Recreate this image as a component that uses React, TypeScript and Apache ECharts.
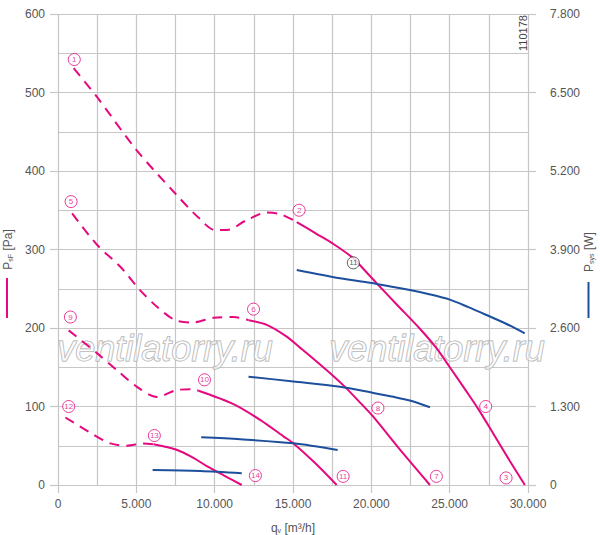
import React, { useEffect, useRef } from "react";
import * as echarts from "echarts";

const PINK = "#e4097e";
const BLUE = "#1d4f9c";
const GRID = "#c6c6c6";
const TEXT = "#555555";
const FONT = "'Liberation Sans', Arial, sans-serif";

// x axis: flow q_v [m3/h]
const xRange = [0, 30000];
const xStep = 5000;
// left axis: pressure [Pa]
const paRange = [0, 600];
const paStep = 100;
// right axis: power [W]
const wRange = [0, 7800];
const wStep = 1300;

// pressure curves (Pa), dashed (unstable) and solid parts
const curveIDashed = [[1000, 531], [2500, 494], [5000, 427], [7500, 371], [9000, 340], [10000, 325], [10800, 325], [12000, 337], [13300, 347], [14200, 345], [15240, 335]];
const curveISolid = [[15240, 335], [16500, 320], [17580, 307], [18850, 289], [19280, 280], [20340, 257], [21620, 230], [23100, 199], [24170, 174], [25010, 150], [26080, 119], [26820, 97], [27770, 66], [28830, 31], [29800, 0]];
const curveIIDashed = [[900, 346], [2490, 306], [3980, 278], [5250, 248], [6320, 227], [7480, 210], [8550, 207], [9930, 213], [11200, 214], [12160, 210]];
const curveIISolid = [[12160, 210], [13330, 204], [14600, 189], [15450, 175], [16410, 159], [17570, 139], [18320, 125], [19280, 105], [20120, 87], [21830, 45], [23740, 0]];
const curveIIIDashed = [[680, 197], [2490, 168], [3770, 146], [5040, 125], [6320, 112], [7590, 121], [8650, 122], [8970, 120]];
const curveIIISolid = [[8970, 120], [11200, 103], [12900, 83], [14390, 62], [15030, 53], [16410, 28], [17790, 0]];
const curveIVDashed = [[470, 86], [2280, 64], [3340, 53], [4400, 50], [5460, 53], [6100, 52]];
const curveIVSolid = [[6100, 52], [7000, 48], [7800, 43], [8700, 34], [9500, 24], [10600, 12], [11730, 0]];

// power curves (W)
const powerI = [[15240, 3561], [18000, 3423], [20340, 3330], [22460, 3229], [23700, 3160], [25010, 3070], [26200, 2945], [27350, 2815], [28600, 2670], [29790, 2512]];
const powerII = [[12160, 1793], [15030, 1715], [18000, 1628], [20120, 1525], [21300, 1465], [22460, 1400], [23740, 1287]];
const powerIII = [[9140, 790], [11630, 757], [15030, 690], [17850, 580]];
const powerIV = [[6040, 248], [9080, 232], [11730, 194]];

// circled operating point markers: [label, x, Pa]
const pinkMarkers = [
  ["1", 1040, 542], ["2", 15390, 350], ["3", 28600, 9], ["4", 27300, 100],
  ["5", 835, 361], ["6", 12480, 224], ["7", 24150, 11], ["8", 20420, 98],
  ["9", 790, 214], ["10", 9350, 134], ["11", 18200, 11], ["12", 680, 100],
  ["13", 6150, 63], ["14", 12600, 12],
];
const blackMarkers = [["11", 18850, 283]];

// roman labels: [text, x, Pa]
const pinkLabels = [["I", 16930, 336], ["II", 13860, 215], ["III", 10910, 122], ["IV", 8120, 61]];
const blueLabels = [["I", 29110, 214], ["II", 23360, 119], ["III", 16900, 65], ["IV", 11260, 29]];

const fmt = (v: number) => String(v).replace(/\B(?=(\d{3})+(?!\d))/g, ".");

function lineSeries(data: number[][], color: string, dashed: boolean, yAxisIndex = 0) {
  return {
    type: "line",
    data,
    yAxisIndex,
    showSymbol: false,
    symbol: "none",
    smooth: 0.3,
    lineStyle: { color, width: 2, type: dashed ? [10, 7] : "solid" },
    z: 3,
    silent: true,
  };
}

function markerSeries(items: (string | number)[][], color: string) {
  return {
    type: "scatter",
    symbol: "circle",
    symbolSize: 12,
    itemStyle: { color: "#ffffff", borderColor: color, borderWidth: 1 },
    label: {
      show: true,
      position: "inside",
      formatter: (p: any) => p.name,
      color,
      fontSize: 8,
      fontFamily: FONT,
    },
    data: items.map((m) => ({ name: m[0], value: [m[1], m[2]] })),
    z: 5,
    silent: true,
  };
}

function labelSeries(items: (string | number)[][], color: string) {
  return {
    type: "scatter",
    symbolSize: 1,
    itemStyle: { opacity: 0 },
    label: {
      show: true,
      position: "inside",
      formatter: (p: any) => p.name,
      color,
      fontSize: 12,
      fontFamily: FONT,
    },
    data: items.map((m) => ({ name: m[0], value: [m[1], m[2]] })),
    z: 5,
    silent: true,
  };
}

const watermark = (x: number) => ({
  type: "text",
  x,
  y: 348,
  z: 1,
  style: {
    text: "ventilatorry.ru",
    fontSize: 36,
    fontStyle: "italic",
    fontFamily: FONT,
    fill: "rgba(255,255,255,0.55)",
    stroke: "#a8a8a8",
    lineWidth: 1,
    align: "center",
    verticalAlign: "middle",
  },
});

export default function App() {
  const ref = useRef<HTMLDivElement>(null);
  useEffect(() => {
    if (!ref.current) return;
    const chart = echarts.init(ref.current, null, { renderer: "svg" });
    const axisLabel = { color: TEXT, fontSize: 12, fontFamily: FONT, formatter: (v: number) => fmt(v) };
    const tick = { show: true, length: 8, lineStyle: { color: GRID, width: 1.2 } };
    const split = { show: true, lineStyle: { color: GRID, width: 1.2 } };
    const minorSplit = { show: true, lineStyle: { color: GRID, width: 1.2 } };
    const rich = { sub: { fontSize: 7, color: TEXT, fontFamily: FONT, verticalAlign: "bottom", lineHeight: 7 } };
    const nameStyle = { color: TEXT, fontSize: 12, fontFamily: FONT, rich };
    chart.setOption({
      animation: false,
      backgroundColor: "#ffffff",
      grid: { left: 58, right: 72, top: 14, bottom: 50, containLabel: false, outerBoundsMode: "none" },
      xAxis: {
        type: "value",
        min: xRange[0],
        max: xRange[1],
        interval: xStep,
        axisLine: { show: false },
        axisTick: tick,
        axisLabel: { ...axisLabel, margin: 13 },
        splitLine: split,
        minorTick: { show: false, splitNumber: 2 },
        minorSplitLine: minorSplit,
        name: "q{sub|v} [m³/h]",
        nameLocation: "middle",
        nameGap: 37,
        nameMoveOverlap: false,
        nameTextStyle: nameStyle,
      },
      yAxis: [
        {
          type: "value",
          min: paRange[0],
          max: paRange[1],
          interval: paStep,
          axisLine: { show: false },
          axisTick: tick,
          axisLabel: { ...axisLabel, margin: 13 },
          splitLine: split,
          minorTick: { show: false, splitNumber: 2 },
          minorSplitLine: minorSplit,
          name: "P{sub|sF} [Pa]",
          nameLocation: "middle",
          nameRotate: 90,
          nameGap: 44,
          nameMoveOverlap: false,
          nameTextStyle: nameStyle,
        },
        {
          type: "value",
          position: "right",
          min: wRange[0],
          max: wRange[1],
          interval: wStep,
          axisLine: { show: false },
          axisTick: tick,
          axisLabel: { ...axisLabel, margin: 22 },
          splitLine: { show: false },
        },
      ],
      graphic: [
        { type: "line", shape: { x1: 7, y1: 278, x2: 7, y2: 318 }, style: { stroke: PINK, lineWidth: 2 } },
        { type: "line", shape: { x1: 588.5, y1: 282, x2: 588.5, y2: 318 }, style: { stroke: BLUE, lineWidth: 2 } },
        {
          type: "text",
          x: 589,
          y: 252,
          rotation: Math.PI / 2,
          style: {
            text: "P{sub|sys} [W]",
            rich,
            fill: TEXT,
            fontSize: 12,
            fontFamily: FONT,
            align: "center",
            verticalAlign: "middle",
          },
          z: 10,
        },
        {
          type: "text",
          x: 523,
          y: 33,
          rotation: Math.PI / 2,
          style: { text: "110178", fill: "#444444", fontSize: 11, fontFamily: FONT, align: "center", verticalAlign: "middle" },
          z: 10,
        },
        watermark(165),
        watermark(437),
      ],
      series: [
        lineSeries(curveIDashed, PINK, true),
        lineSeries(curveISolid, PINK, false),
        lineSeries(curveIIDashed, PINK, true),
        lineSeries(curveIISolid, PINK, false),
        lineSeries(curveIIIDashed, PINK, true),
        lineSeries(curveIIISolid, PINK, false),
        lineSeries(curveIVDashed, PINK, true),
        lineSeries(curveIVSolid, PINK, false),
        lineSeries(powerI, BLUE, false, 1),
        lineSeries(powerII, BLUE, false, 1),
        lineSeries(powerIII, BLUE, false, 1),
        lineSeries(powerIV, BLUE, false, 1),
        markerSeries(pinkMarkers, PINK),
        markerSeries(blackMarkers, "#333333"),
        labelSeries(pinkLabels, PINK),
        labelSeries(blueLabels, BLUE),
      ],
    });
    return () => chart.dispose();
  }, []);
  return <div ref={ref} style={{ position: "absolute", left: 0, top: 0, width: 600, height: 535 }} />;
}
